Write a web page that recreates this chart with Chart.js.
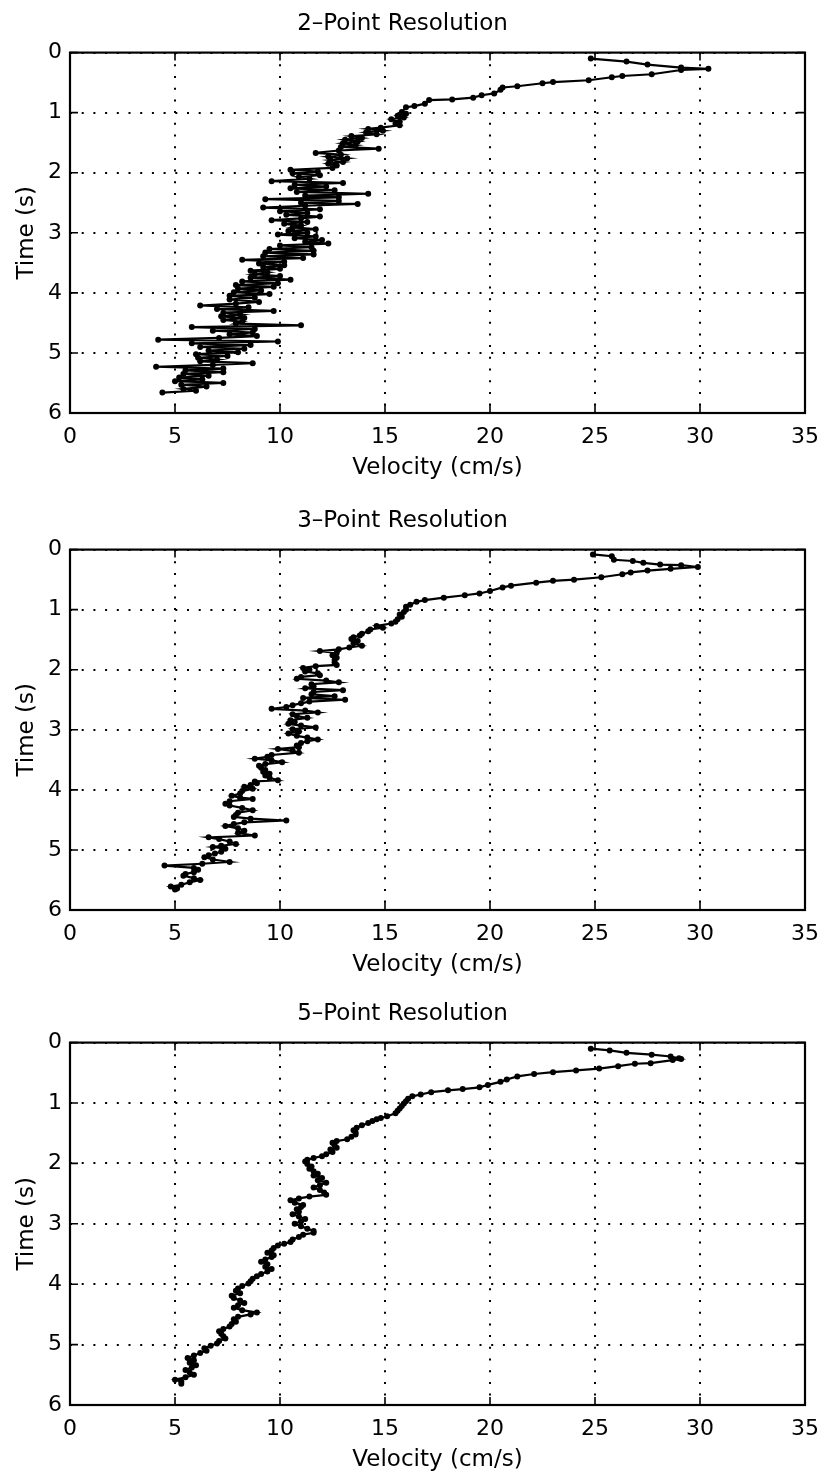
<!DOCTYPE html>
<html>
<head>
<meta charset="utf-8">
<title>Velocity vs Time</title>
<script src="https://cdn.jsdelivr.net/npm/chart.js@4.4.1/dist/chart.umd.min.js"></script>
<style>
    html, body {
        margin: 0;
        padding: 0;
        background: #fff;
        overflow: hidden;
    }
    .panel {
        position: absolute;
        left: 0;
    }
</style>
</head>
<body>
<canvas id="chart2pt" class="panel" width="825" height="483" style="top:0px"></canvas>
<canvas id="chart3pt" class="panel" width="825" height="483" style="top:497px"></canvas>
<canvas id="chart5pt" class="panel" width="825" height="485" style="top:990px"></canvas>
<script>
const velocityTicks = [0, 5, 10, 15, 20, 25, 30, 35];
const timeTicks = [0, 1, 2, 3, 4, 5, 6];

const time2pt = [0.10,0.15,0.20,0.25,0.27,0.29,0.36,0.39,0.41,0.46,
    0.49,0.51,0.56,0.58,0.62,0.68,0.71,0.75,0.78,0.79,
    0.85,0.89,0.91,0.99,1.02,1.05,1.08,1.11,1.15,1.18,
    1.21,1.25,1.27,1.30,1.33,1.36,1.39,1.42,1.45,1.48,
    1.51,1.54,1.57,1.60,1.63,1.67,1.70,1.73,1.76,1.79,
    1.82,1.85,1.88,1.92,1.95,1.98,2.01,2.04,2.07,2.10,
    2.14,2.17,2.20,2.23,2.26,2.29,2.32,2.35,2.38,2.41,
    2.44,2.47,2.50,2.52,2.55,2.58,2.61,2.64,2.67,2.70,
    2.73,2.76,2.79,2.82,2.85,2.88,2.91,2.94,2.97,3.00,
    3.03,3.06,3.09,3.12,3.15,3.18,3.21,3.24,3.27,3.30,
    3.33,3.36,3.39,3.42,3.45,3.48,3.51,3.54,3.57,3.60,
    3.63,3.66,3.69,3.72,3.75,3.78,3.81,3.84,3.87,3.90,
    3.93,3.96,3.99,4.02,4.05,4.08,4.11,4.15,4.18,4.21,
    4.24,4.27,4.30,4.33,4.36,4.39,4.42,4.45,4.48,4.51,
    4.54,4.57,4.60,4.63,4.66,4.69,4.72,4.75,4.78,4.81,
    4.84,4.87,4.90,4.93,4.96,4.99,5.02,5.05,5.08,5.11,
    5.14,5.17,5.20,5.23,5.26,5.29,5.32,5.35,5.38,5.41,
    5.44,5.47,5.50,5.53,5.56,5.60,5.63,5.66];
const vel2pt = [24.8,26.5,27.5,29.1,30.4,29.1,27.7,26.3,25.8,24.7,
    23.0,22.5,21.3,20.6,20.5,20.2,19.6,19.2,18.2,17.1,
    16.9,16.4,16.0,15.8,16.0,15.6,15.9,15.3,15.7,15.5,
    15.7,14.8,14.2,14.9,14.1,14.6,13.4,13.9,13.1,13.7,
    13.0,13.6,12.9,14.7,12.8,11.7,12.9,12.3,13.2,12.4,
    13.0,12.3,12.7,12.5,10.5,11.8,10.6,11.9,10.9,11.4,
    9.6,13.0,10.7,12.2,10.5,12.6,10.8,14.2,11.2,12.8,
    9.3,12.8,11.0,13.7,11.2,9.2,11.9,10.0,11.3,10.3,
    11.9,11.0,9.6,11.3,10.2,11.0,10.6,11.7,10.4,11.3,
    9.9,11.7,10.7,12.0,11.2,12.3,10.0,11.5,9.5,11.6,
    9.3,11.6,9.2,11.1,8.2,10.2,9.0,10.2,9.2,10.0,
    8.6,9.4,8.8,10.0,8.6,10.5,8.2,9.9,7.9,9.7,
    8.0,9.1,7.8,9.5,7.6,8.8,7.6,9.0,7.9,6.2,
    8.5,7.0,9.7,7.3,8.1,7.2,8.3,7.3,8.2,7.9,
    11.0,5.8,8.8,6.8,8.7,7.6,8.9,7.1,4.2,9.9,
    5.8,8.6,6.2,8.3,6.6,8.0,6.0,7.5,6.1,7.0,
    6.2,8.7,6.8,4.1,7.3,5.5,7.3,5.4,6.6,5.2,
    6.3,5.0,7.3,5.3,6.5,5.4,6.0,4.4];

const time3pt = [0.08,0.11,0.17,0.19,0.22,0.25,0.26,0.29,0.32,0.35,
    0.38,0.41,0.46,0.50,0.52,0.55,0.60,0.63,0.69,0.73,
    0.76,0.80,0.84,0.87,0.92,0.95,1.00,1.04,1.08,1.12,
    1.16,1.20,1.23,1.27,1.30,1.33,1.36,1.40,1.43,1.46,
    1.49,1.52,1.56,1.60,1.63,1.66,1.69,1.72,1.76,1.80,
    1.84,1.88,1.92,1.94,1.97,2.00,2.03,2.06,2.09,2.12,
    2.15,2.18,2.21,2.24,2.28,2.31,2.34,2.37,2.41,2.44,
    2.47,2.50,2.53,2.56,2.59,2.62,2.65,2.68,2.71,2.74,
    2.77,2.80,2.84,2.87,2.90,2.93,2.96,2.99,3.03,3.06,
    3.10,3.13,3.16,3.19,3.22,3.26,3.29,3.32,3.35,3.38,
    3.42,3.45,3.48,3.51,3.54,3.57,3.60,3.63,3.67,3.70,
    3.73,3.76,3.80,3.84,3.86,3.89,3.92,3.95,3.98,4.02,
    4.06,4.10,4.13,4.15,4.19,4.23,4.26,4.30,4.34,4.38,
    4.42,4.45,4.48,4.51,4.54,4.57,4.60,4.64,4.68,4.72,
    4.76,4.79,4.82,4.86,4.90,4.93,4.95,4.98,5.03,5.06,
    5.09,5.12,5.16,5.20,5.23,5.26,5.30,5.33,5.37,5.40,
    5.43,5.47,5.50,5.54,5.58,5.61,5.64,5.66];
const vel3pt = [24.9,25.8,25.9,26.8,27.3,28.1,29.1,29.9,28.6,27.5,
    26.7,26.3,25.3,24.0,23.0,22.2,21.0,20.6,20.0,19.5,
    18.8,17.8,16.9,16.5,16.2,16.0,16.0,15.9,15.7,15.8,
    15.6,15.5,15.3,14.6,14.9,14.3,14.2,13.9,13.8,13.5,
    13.4,13.7,13.5,13.9,13.3,12.8,11.9,12.7,12.5,12.7,
    12.6,12.6,12.7,11.7,11.1,11.4,11.2,11.8,11.9,11.0,
    10.8,12.2,12.8,11.5,11.6,11.2,13.0,11.6,11.5,12.6,
    11.1,13.1,11.4,11.0,10.6,10.3,9.6,11.2,11.8,10.6,
    10.8,11.3,10.5,10.7,10.4,11.0,11.7,10.6,10.9,10.4,
    10.8,11.3,11.8,11.3,11.0,10.8,10.9,9.9,10.6,10.9,
    9.6,9.4,8.8,9.6,10.1,9.3,9.0,9.1,9.3,9.2,
    9.5,9.3,9.5,9.9,8.8,8.9,8.6,8.3,8.7,8.2,
    8.1,7.7,8.1,8.7,7.6,7.4,7.6,8.2,8.7,8.0,
    7.9,7.8,8.6,10.3,8.3,7.8,7.4,8.0,8.3,8.0,
    8.8,6.6,7.1,7.6,7.9,7.2,6.8,7.4,7.2,6.9,
    6.6,6.4,6.8,7.6,6.3,4.5,5.9,6.1,5.9,5.5,
    5.4,5.9,6.2,5.7,5.3,4.8,5.1,5.0];

const time5pt = [0.10,0.13,0.17,0.20,0.23,0.26,0.27,0.29,0.34,0.35,
    0.39,0.43,0.46,0.49,0.52,0.56,0.61,0.65,0.70,0.74,
    0.77,0.79,0.82,0.86,0.89,0.93,0.97,1.01,1.05,1.09,
    1.13,1.17,1.22,1.25,1.27,1.30,1.33,1.37,1.41,1.45,
    1.49,1.52,1.56,1.60,1.63,1.66,1.70,1.74,1.77,1.81,
    1.85,1.88,1.91,1.94,1.97,2.01,2.05,2.09,2.13,2.17,
    2.20,2.24,2.28,2.32,2.36,2.40,2.44,2.48,2.52,2.55,
    2.58,2.61,2.65,2.69,2.72,2.76,2.80,2.84,2.88,2.92,
    2.96,3.00,3.04,3.08,3.12,3.15,3.18,3.22,3.26,3.30,
    3.33,3.36,3.40,3.44,3.48,3.52,3.55,3.59,3.63,3.67,
    3.71,3.75,3.79,3.83,3.87,3.91,3.95,3.99,4.03,4.07,
    4.11,4.15,4.19,4.23,4.27,4.31,4.35,4.39,4.43,4.47,
    4.50,4.54,4.58,4.62,4.66,4.70,4.74,4.78,4.82,4.86,
    4.90,4.94,4.98,5.02,5.06,5.10,5.14,5.18,5.22,5.26,
    5.30,5.34,5.38,5.42,5.46,5.50,5.54,5.58,5.61,5.65];
const vel5pt = [24.8,25.7,26.5,27.7,28.6,29.0,29.1,28.7,27.65,26.9,
    26.1,25.2,24.1,23.0,22.1,21.3,20.8,20.5,19.9,19.5,
    18.7,18.0,17.2,16.7,16.3,16.1,16.0,15.9,15.8,15.7,
    15.6,15.5,15.1,14.8,14.6,14.4,14.2,13.9,13.65,13.5,
    13.6,13.6,13.4,13.2,12.7,12.5,12.6,12.7,12.4,12.5,
    12.2,12.0,11.6,11.3,11.2,11.3,11.5,11.4,11.6,11.8,
    11.6,12.0,11.8,12.2,11.9,11.6,11.9,12.1,12.2,11.4,
    10.9,10.5,10.7,11.1,11.0,10.8,10.9,10.6,10.9,11.2,
    11.0,10.7,11.0,11.3,11.6,11.6,11.1,10.9,10.6,10.5,
    10.2,9.9,9.7,9.6,9.4,9.7,9.6,9.3,9.1,9.4,
    9.3,9.6,9.4,9.1,8.9,8.7,8.6,8.5,8.2,8.0,
    7.9,8.1,7.7,7.8,8.1,8.3,8.0,7.8,8.2,8.9,
    8.6,8.0,7.8,7.9,7.7,7.6,7.3,7.1,7.2,7.3,
    7.4,7.1,7.0,6.7,6.4,6.5,6.2,5.9,5.6,5.9,
    5.7,6.0,5.8,5.5,5.7,5.9,5.5,5.0,5.3,5.3];

Chart.defaults.font.family = '"DejaVu Sans", "Liberation Sans", Arial, sans-serif';
Chart.defaults.color = '#000';

// box round the plot with small ticks pointing inwards, like the old matlab axes
const axesBox = {
    id: 'axesBox',
    afterDatasetsDraw(chart) {
        const { ctx, chartArea, scales } = chart;
        const { left, right, top, bottom } = chartArea;
        ctx.save();
        ctx.strokeStyle = '#000';
        ctx.lineWidth = 2.2;
        ctx.strokeRect(left, top, right - left, bottom - top);
        ctx.lineWidth = 1.6;
        ctx.beginPath();
        velocityTicks.forEach((v) => {
            const px = scales.x.getPixelForValue(v);
            ctx.moveTo(px, bottom);
            ctx.lineTo(px, bottom - 8);
            ctx.moveTo(px, top);
            ctx.lineTo(px, top + 8);
        });
        timeTicks.forEach((t) => {
            const py = scales.y.getPixelForValue(t);
            ctx.moveTo(left, py);
            ctx.lineTo(left + 8, py);
            ctx.moveTo(right, py);
            ctx.lineTo(right - 8, py);
        });
        ctx.stroke();
        ctx.restore();
    }
};

function makeChart(canvasId, titleText, times, velocities) {
    const points = times.map((t, i) => ({ x: velocities[i], y: t }));
    const ctx = document.getElementById(canvasId).getContext('2d');
    return new Chart(ctx, {
        type: 'scatter',
        data: {
            datasets: [{
                data: points,
                showLine: true,
                borderColor: '#000',
                borderWidth: 2.2,
                backgroundColor: '#000',
                pointBackgroundColor: '#000',
                pointBorderWidth: 0,
                pointRadius: 3,
                tension: 0
            }]
        },
        options: {
            responsive: false,
            animation: false,
            layout: {
                padding: { left: 0, right: 20, top: 0, bottom: 0 }
            },
            plugins: {
                legend: { display: false },
                tooltip: { enabled: false },
                title: {
                    display: true,
                    text: titleText,
                    color: '#000',
                    font: { size: 23, weight: 'normal', lineHeight: 1.2 },
                    padding: { top: 10, bottom: 15 }
                }
            },
            scales: {
                x: {
                    type: 'linear',
                    min: 0,
                    max: 35,
                    afterBuildTicks: (scale) => {
                        scale.ticks = velocityTicks.map((v) => ({ value: v }));
                    },
                    afterFit: (scale) => {
                        scale.height = 70;
                        scale.paddingLeft = 0;
                        scale.paddingRight = 0;
                    },
                    ticks: {
                        font: { size: 22 },
                        padding: 11,
                        maxRotation: 0
                    },
                    grid: {
                        color: '#000',
                        lineWidth: 2,
                        drawTicks: false
                    },
                    border: {
                        display: false,
                        dash: [2, 9.7]
                    },
                    title: {
                        display: true,
                        text: 'Velocity (cm/s)',
                        font: { size: 23 },
                        padding: { top: 0, bottom: 1 }
                    }
                },
                y: {
                    type: 'linear',
                    reverse: true,
                    min: 0,
                    max: 6,
                    afterBuildTicks: (scale) => {
                        scale.ticks = timeTicks.map((t) => ({ value: t }));
                    },
                    afterFit: (scale) => {
                        scale.width = 70;
                        scale.paddingTop = 0;
                        scale.paddingBottom = 0;
                    },
                    ticks: {
                        font: { size: 22 },
                        padding: 8
                    },
                    grid: {
                        color: '#000',
                        lineWidth: 2,
                        drawTicks: false
                    },
                    border: {
                        display: false,
                        dash: [2, 9.7]
                    },
                    title: {
                        display: true,
                        text: 'Time (s)',
                        font: { size: 23 },
                        padding: { top: 13, bottom: 0 }
                    }
                }
            }
        },
        plugins: [axesBox]
    });
}

makeChart('chart2pt', '2\u2013Point Resolution', time2pt, vel2pt);
makeChart('chart3pt', '3\u2013Point Resolution', time3pt, vel3pt);
makeChart('chart5pt', '5\u2013Point Resolution', time5pt, vel5pt);
</script>
</body>
</html>
